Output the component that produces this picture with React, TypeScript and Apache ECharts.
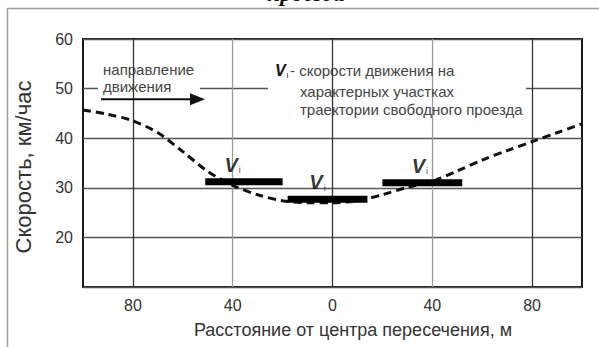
import React, { useEffect, useRef } from "react";
import * as echarts from "echarts";

// ---- data ----
const xTickValues = [-80, -40, 0, 40, 80];
const xDarkGrid = [-80, 0, 80];
const yTickValues = [20, 30, 40, 50, 60];
const curveX = [-100, -90, -80, -70, -60, -50, -40, -30, -20, -10, 0, 10, 20, 30, 40, 50, 60, 70, 80, 90, 100];
const curveY = [45.7, 44.8, 43.5, 41.1, 37.3, 33.3, 30.5, 28.6, 27.4, 27.0, 27.0, 27.4, 28.6, 30.1, 31.3, 33.4, 35.6, 37.5, 39.3, 41.1, 42.9];
const barStart = [-51, -18, 20];
const barEnd = [-20, 14, 52];
const barSpeed = [31.2, 27.7, 31.0];
const labelX = [-40, -6, 35];

const FONT = '"Liberation Sans", Arial, Helvetica, sans-serif';

export default function App() {
  const ref = useRef<HTMLDivElement>(null);
  useEffect(() => {
    const chart = echarts.init(ref.current!, null, { renderer: "svg" });
    const series: any[] = [];
    // vertical grid lines via markLine
    series.push({
      type: "line",
      data: [[0, 30]],
      symbol: "none",
      lineStyle: { opacity: 0 },
      silent: true,
      z: 1,
      markLine: {
        symbol: "none",
        silent: true,
        label: { show: false },
        data: xTickValues.map((v) => ({
          xAxis: v,
          lineStyle: {
            color: xDarkGrid.includes(v) ? "#333" : "#9a9a9a",
            width: 1.3,
            type: "solid",
          },
        })),
      },
    });
    series.push({
      type: "line",
      data: curveX.map((x, i) => [x, curveY[i]]),
      smooth: 0.3,
      symbol: "none",
      lineStyle: { color: "#111", width: 3, type: [8, 5] },
      z: 10,
    });
    barStart.forEach((s, i) => {
      series.push({
        type: "line",
        data: [
          [s, barSpeed[i]],
          [barEnd[i], barSpeed[i]],
        ],
        symbol: "none",
        lineStyle: { color: "#000", width: 7, cap: "butt" },
        z: 11,
      });
    });
    series.push({
      type: "scatter",
      data: labelX.map((x, i) => [x, barSpeed[i]]),
      symbolSize: 0,
      itemStyle: { color: "#000" },
      z: 12,
      label: {
        show: true,
        position: "top",
        distance: 7,
        color: "#000",
        formatter: "{v|V}{s|i}",
        rich: {
          v: { fontSize: 20, fontWeight: "bold", fontStyle: "italic", color: "#000", fontFamily: FONT },
          s: { fontSize: 9, color: "#000", fontFamily: FONT, verticalAlign: "bottom", padding: [0, 0, 0, 1] },
        },
      },
    });

    const txt = (text: string, x: number, y: number, extra: any = {}) => ({
      type: "text",
      x,
      y,
      z: 6,
      style: {
        text,
        fontFamily: FONT,
        fontSize: 15,
        fill: "#444",
        verticalAlign: "middle",
        align: "left",
        ...extra,
      },
    });

    chart.setOption({
      animation: false,
      backgroundColor: "#fff",
      grid: {
        left: 83,
        top: 39,
        width: 499,
        height: 248,
        show: true,
        borderColor: "#1a1a1a",
        borderWidth: 2,
        backgroundColor: "transparent",
      },
      xAxis: {
        type: "value",
        min: -100,
        max: 100,
        interval: 20,
        axisLine: { show: false },
        axisTick: { show: false },
        splitLine: { show: false },
        axisLabel: {
          margin: 10,
          fontSize: 16,
          color: "#333",
          fontFamily: FONT,
          formatter: (v: number) => (xTickValues.includes(v) ? String(Math.abs(v)) : ""),
        },
      },
      yAxis: {
        type: "value",
        min: 10,
        max: 60,
        interval: 10,
        axisLine: { show: false },
        axisTick: { show: false },
        splitLine: { show: true, lineStyle: { color: "#555", width: 1.3 } },
        axisLabel: {
          margin: 10,
          fontSize: 16,
          color: "#333",
          fontFamily: FONT,
          formatter: (v: number) => (yTickValues.includes(v) ? String(v) : ""),
        },
      },
      series,
      graphic: [
        // outer frame
        { type: "line", z: 1, shape: { x1: 7.5, y1: 8, x2: 7.5, y2: 347 }, style: { stroke: "#a0a0a0", lineWidth: 1.5 } },
        { type: "line", z: 1, shape: { x1: 7, y1: 8.5, x2: 599, y2: 8.5 }, style: { stroke: "#a0a0a0", lineWidth: 1.5 } },
        // clipped heading
        {
          type: "text",
          x: 306,
          y: 4.5,
          z: 6,
          style: {
            text: "проезда",
            fontFamily: '"Liberation Serif", "Times New Roman", serif',
            fontSize: 23,
            fontWeight: "bold",
            fontStyle: "italic",
            fill: "#111",
            align: "center",
            verticalAlign: "bottom",
          },
        },
        // white boxes masking grid lines
        { type: "rect", z: 5, shape: { x: 98, y: 59, width: 102, height: 42 }, style: { fill: "#fff" } },
        { type: "rect", z: 5, shape: { x: 268, y: 58, width: 258, height: 60 }, style: { fill: "#fff" } },
        // direction note
        txt("направление", 103, 69.5),
        txt("движения", 103, 86.5),
        { type: "line", z: 7, shape: { x1: 101, y1: 99.3, x2: 193, y2: 99.3 }, style: { stroke: "#111", lineWidth: 2 } },
        { type: "polygon", z: 7, shape: { points: [[190, 93.3], [205, 99.3], [190, 105.3]] }, style: { fill: "#111" } },
        // legend note
        txt("V", 275, 70, { fontSize: 16, fontWeight: "bold", fontStyle: "italic", fill: "#111" }),
        txt("i", 286.5, 75, { fontSize: 8, fill: "#111" }),
        txt("- скорости движения на", 290, 70),
        txt("характерных участках", 300, 91.5),
        txt("траектории свободного проезда", 300, 109),
        // axis titles
        {
          type: "text",
          x: 353,
          y: 330,
          z: 6,
          style: { text: "Расстояние от центра пересечения, м", fontFamily: FONT, fontSize: 18, fill: "#333", align: "center", verticalAlign: "middle" },
        },
        {
          type: "text",
          x: 23,
          y: 167,
          rotation: Math.PI / 2,
          z: 6,
          style: { text: "Скорость, км/час", fontFamily: FONT, fontSize: 22, fill: "#333", align: "center", verticalAlign: "middle" },
        },
      ],
    });
    return () => chart.dispose();
  }, []);
  return (
    <div
      ref={ref}
      style={{ position: "fixed", left: 0, top: 0, width: 599, height: 347, background: "#fff" }}
    />
  );
}
